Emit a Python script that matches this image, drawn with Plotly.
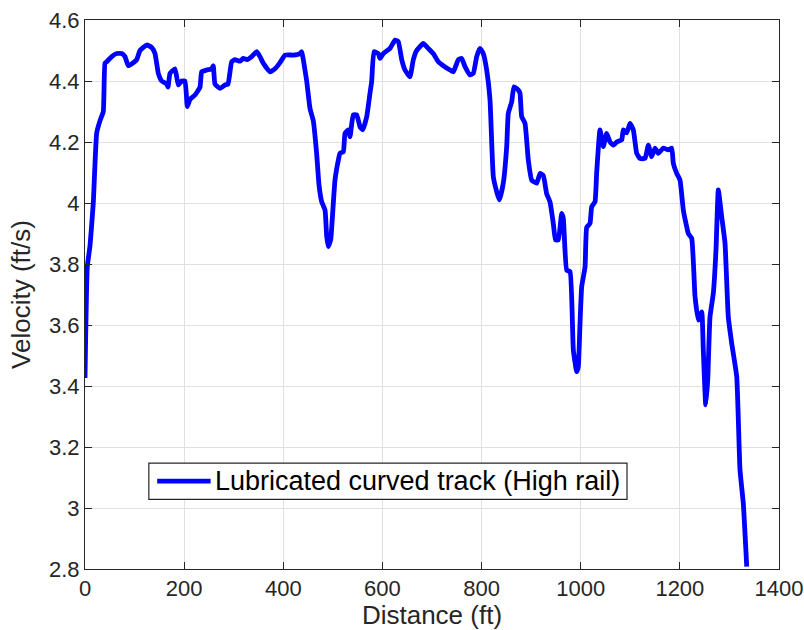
import plotly.graph_objects as go

# Distance along the track (ft) and measured velocity (ft/s)
distance_ft = [
    0, 4.6, 10.1, 16.7, 23.6, 30.3, 36.9, 40.3, 43.8, 53.9, 63.9, 74.0, 80.7, 87.3,
    97.4, 104.3, 111, 124.5, 134.6, 141.2, 147.9, 154.7, 164.8, 167.4, 171.5, 181.6,
    188.2, 195.1, 201.7, 206.4, 211.8, 221.9, 232, 235.4, 245.5, 255.6, 258.8, 262.2,
    272.3, 282.4, 288.5, 295.9, 302.6, 312.7, 319.3, 326.8, 336.3, 346.4, 353, 359.7,
    373.2, 383.3, 393.4, 403.5, 420.2, 433.7, 437.2, 440.4, 447.2, 453.9, 460.5, 467.4,
    472, 477.5, 484.2, 487.6, 490.8, 495.7, 497.7, 504.3, 511, 514.4, 521.1, 524.5,
    531.2, 534.6, 541.2, 548.1, 554.8, 560.2, 568.3, 574.9, 578.4, 583, 591.7, 595.1,
    601.8, 615.3, 625.4, 632, 638.9, 645.5, 655.6, 662.3, 669.1, 682.4, 692.5, 702.6,
    712.7, 722.8, 736.3, 743, 753.1, 759.9, 766.6, 776.7, 783.3, 790.2, 796.8, 803.5,
    810.3, 817, 823.7, 830.5, 835.8, 843.8, 850.7, 853.9, 860.8, 865.4, 874.1, 877.5,
    880.9, 887.6, 894.3, 901.1, 911.2, 917.9, 924.5, 931.4, 938, 944.7, 949.1, 954.8,
    961.6, 964.9, 971.7, 978.4, 985.1, 991.9, 995.1, 998.6, 1002, 1008.7, 1012.1,
    1018.7, 1022.2, 1028.8, 1032.2, 1038.9, 1045.5, 1052.4, 1059.1, 1065.7, 1072.6,
    1082.7, 1085.9, 1092.8, 1099.4, 1106.1, 1112.9, 1119.6, 1129.7, 1136.4, 1143.2,
    1149.9, 1156.5, 1166.6, 1176.7, 1183.6, 1186.8, 1193.6, 1200.3, 1207, 1217.1,
    1223.9, 1230.6, 1237.2, 1244.1, 1247.3, 1252.2, 1256.2, 1260.8, 1267.5, 1272.9,
    1277.6, 1284.4, 1291.1, 1297.7, 1304.6, 1314.7, 1321.3, 1328, 1334.9,
]

velocity_fts = [
    3.426, 3.79, 3.86, 4.0, 4.23, 4.27, 4.30, 4.458, 4.463, 4.48, 4.49, 4.49, 4.48, 4.45,
    4.46, 4.47, 4.50, 4.518, 4.51, 4.49, 4.425, 4.40, 4.39, 4.38, 4.425, 4.44,
    4.387, 4.40, 4.40, 4.316, 4.34, 4.354, 4.38, 4.43, 4.436, 4.44, 4.45, 4.39,
    4.376, 4.387, 4.39, 4.463, 4.47, 4.465, 4.474, 4.47, 4.48, 4.496, 4.48, 4.458,
    4.43, 4.44, 4.46, 4.485, 4.485, 4.49, 4.496, 4.47, 4.40, 4.31, 4.27, 4.16,
    4.06, 4.004, 3.977, 3.89, 3.857, 3.88, 3.92, 4.075, 4.14, 4.163, 4.168, 4.228,
    4.24, 4.217, 4.289, 4.289, 4.25, 4.24, 4.283, 4.36, 4.40, 4.496, 4.49, 4.474,
    4.49, 4.507, 4.534, 4.529, 4.47, 4.436, 4.414, 4.47, 4.50, 4.523, 4.507, 4.49,
    4.463, 4.45, 4.436, 4.43, 4.47, 4.474, 4.447, 4.42, 4.425, 4.48, 4.507, 4.49,
    4.436, 4.338, 4.086, 4.037, 4.01, 4.065, 4.185, 4.294, 4.332, 4.381, 4.37, 4.36,
    4.283, 4.261, 4.14, 4.075, 4.065, 4.097, 4.09, 4.03, 4.004, 3.933, 3.879, 3.879,
    3.966, 3.95, 3.78, 3.775, 3.518, 3.447, 3.463, 3.606, 3.726, 3.79, 3.92,
    3.933, 3.988, 4.004, 4.10, 4.24, 4.185, 4.228, 4.20, 4.19, 4.20,
    4.207, 4.24, 4.23, 4.261, 4.24, 4.163, 4.146, 4.146, 4.19, 4.152,
    4.18, 4.163, 4.18, 4.174, 4.18, 4.13, 4.097, 4.075, 3.977, 3.90,
    3.884, 3.693, 3.616, 3.643, 3.518, 3.338, 3.42, 3.627, 3.704, 3.846,
    4.043, 3.955, 3.868, 3.627, 3.54, 3.431, 3.125, 3.015, 2.808,
]

x_ticks = [0, 200, 400, 600, 800, 1000, 1200, 1400]
y_ticks = [2.8, 3.0, 3.2, 3.4, 3.6, 3.8, 4.0, 4.2, 4.4, 4.6]
y_tick_text = ["2.8", "3", "3.2", "3.4", "3.6", "3.8", "4", "4.2", "4.4", "4.6"]

SERIES_NAME = "Lubricated curved track (High rail)"
LINE_COLOR = "#0000ff"
AXIS_COLOR = "#262626"
GRID_COLOR = "#e0e0e0"
FONT = "Liberation Sans, Arial, Helvetica, sans-serif"

fig = go.Figure()
fig.add_trace(go.Scatter(
    x=distance_ft,
    y=velocity_fts,
    mode="lines",
    name=SERIES_NAME,
    line=dict(color=LINE_COLOR, width=4.8, shape="spline", smoothing=0.4),
    showlegend=False,
))

axis_common = dict(
    showline=True,
    linecolor=AXIS_COLOR,
    linewidth=1,
    mirror="ticks",
    ticks="inside",
    ticklen=7,
    tickwidth=1,
    tickcolor=AXIS_COLOR,
    showgrid=True,
    gridcolor=GRID_COLOR,
    gridwidth=1,
    zeroline=False,
    automargin=False,
    tickfont=dict(family=FONT, size=22, color=AXIS_COLOR),
)

fig.update_xaxes(
    range=[0, 1400],
    tickvals=x_ticks,
    title=dict(text="Distance (ft)", font=dict(family=FONT, size=26, color=AXIS_COLOR), standoff=4),
    **axis_common,
)
fig.update_yaxes(
    range=[2.8, 4.6],
    tickvals=y_ticks,
    ticktext=y_tick_text,
    title=dict(text="Velocity (ft/s)", font=dict(family=FONT, size=26, color=AXIS_COLOR), standoff=10),
    **axis_common,
)

# Boxed legend in the lower-left part of the axes: frame, line sample, label
leg_x0, leg_x1 = 0.092, 0.781
leg_y0, leg_y1 = 0.127, 0.193
leg_mid = (leg_y0 + leg_y1) / 2
fig.add_shape(
    type="rect", xref="paper", yref="paper",
    x0=leg_x0, x1=leg_x1, y0=leg_y0, y1=leg_y1,
    line=dict(color=AXIS_COLOR, width=1.2), fillcolor="white", layer="above",
)
fig.add_shape(
    type="line", xref="paper", yref="paper",
    x0=0.104, x1=0.181, y0=leg_mid, y1=leg_mid,
    line=dict(color=LINE_COLOR, width=4.8), layer="above",
)
fig.add_annotation(
    xref="paper", yref="paper", x=0.184, y=leg_mid,
    xanchor="left", yanchor="middle", showarrow=False,
    text=SERIES_NAME,
    font=dict(family=FONT, size=27, color="black"),
)

fig.update_layout(
    width=804,
    height=630,
    margin=dict(l=85, r=25, t=20, b=61),
    paper_bgcolor="white",
    plot_bgcolor="white",
    showlegend=False,
)

fig.write_html("out.html")
